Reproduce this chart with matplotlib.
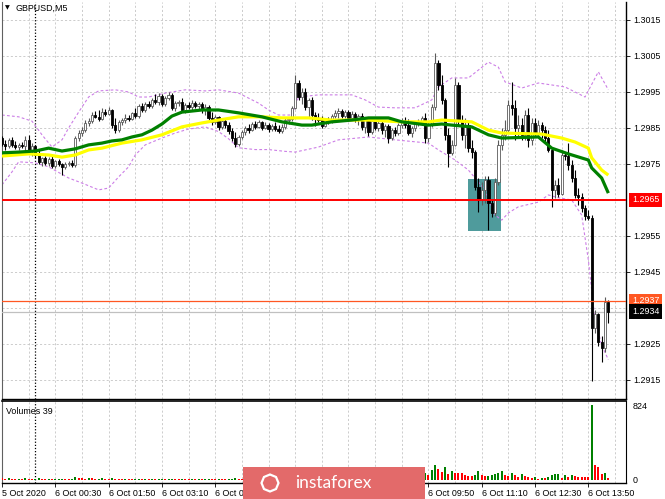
import matplotlib.pyplot as plt
from matplotlib.patches import Rectangle, RegularPolygon

plt.rcParams['font.family'] = ['Liberation Sans', 'DejaVu Sans']

# GBPUSD M5, bar 0 = 6 Oct 00:00
bar_index = list(range(-10, 173))

opens = [
    1.29822, 1.29806, 1.29800, 1.29817, 1.29803, 1.29797, 1.29803, 1.29800, 1.29817, 1.29789,
    1.29800, 1.29775, 1.29756, 1.29767, 1.29753, 1.29764, 1.29744, 1.29758, 1.29750, 1.29742,
    1.29750, 1.29753, 1.29747, 1.29822, 1.29836, 1.29844, 1.29864, 1.29869, 1.29886, 1.29881,
    1.29875, 1.29894, 1.29889, 1.29900, 1.29858, 1.29844, 1.29867, 1.29872, 1.29878, 1.29875,
    1.29892, 1.29883, 1.29911, 1.29900, 1.29917, 1.29911, 1.29928, 1.29922, 1.29939, 1.29917,
    1.29933, 1.29942, 1.29906, 1.29919, 1.29922, 1.29900, 1.29914, 1.29908, 1.29919, 1.29911,
    1.29917, 1.29900, 1.29908, 1.29878, 1.29867, 1.29881, 1.29853, 1.29869, 1.29858, 1.29842,
    1.29822, 1.29806, 1.29825, 1.29839, 1.29850, 1.29844, 1.29861, 1.29853, 1.29867, 1.29850,
    1.29858, 1.29847, 1.29856, 1.29847, 1.29842, 1.29853, 1.29872, 1.29875, 1.29906, 1.29975,
    1.29936, 1.29950, 1.29908, 1.29928, 1.29886, 1.29878, 1.29872, 1.29856, 1.29872, 1.29867,
    1.29883, 1.29892, 1.29897, 1.29883, 1.29894, 1.29878, 1.29889, 1.29875, 1.29883, 1.29853,
    1.29872, 1.29839, 1.29869, 1.29850, 1.29864, 1.29844, 1.29856, 1.29822, 1.29844, 1.29836,
    1.29858, 1.29869, 1.29858, 1.29836, 1.29850, 1.29864, 1.29869, 1.29878, 1.29822, 1.29861,
    1.29908, 1.30031, 1.29969, 1.29928, 1.29831, 1.29781, 1.29803, 1.29969, 1.29872, 1.29831,
    1.29858, 1.29794, 1.29783, 1.29686, 1.29650, 1.29678, 1.29706, 1.29642, 1.29614, 1.29700,
    1.29803, 1.29831, 1.29844, 1.29914, 1.29906, 1.29850, 1.29858, 1.29831, 1.29886, 1.29817,
    1.29864, 1.29836, 1.29858, 1.29844, 1.29822, 1.29789, 1.29678, 1.29692, 1.29667, 1.29775,
    1.29772, 1.29747, 1.29711, 1.29664, 1.29658, 1.29628, 1.29606, 1.29600, 1.29294, 1.29333,
    1.29256, 1.29239, 1.29367,
]
highs = [
    1.29828, 1.29817, 1.29822, 1.29825, 1.29814, 1.29808, 1.29811, 1.29828, 1.29831, 1.29808,
    1.29803, 1.29789, 1.29769, 1.29772, 1.29769, 1.29772, 1.29761, 1.29764, 1.29753, 1.29756,
    1.29758, 1.29761, 1.29828, 1.29844, 1.29853, 1.29872, 1.29878, 1.29894, 1.29897, 1.29900,
    1.29906, 1.29903, 1.29908, 1.29903, 1.29878, 1.29872, 1.29878, 1.29889, 1.29886, 1.29894,
    1.29906, 1.29917, 1.29919, 1.29922, 1.29925, 1.29933, 1.29944, 1.29947, 1.29944, 1.29939,
    1.29950, 1.29947, 1.29925, 1.29928, 1.29933, 1.29919, 1.29922, 1.29928, 1.29925, 1.29922,
    1.29922, 1.29917, 1.29914, 1.29894, 1.29886, 1.29883, 1.29875, 1.29878, 1.29867, 1.29850,
    1.29839, 1.29831, 1.29844, 1.29856, 1.29861, 1.29867, 1.29869, 1.29872, 1.29869, 1.29867,
    1.29864, 1.29861, 1.29867, 1.29858, 1.29861, 1.29878, 1.29881, 1.29911, 1.29997, 1.29983,
    1.29961, 1.29961, 1.29933, 1.29936, 1.29894, 1.29892, 1.29883, 1.29878, 1.29881, 1.29889,
    1.29900, 1.29906, 1.29903, 1.29900, 1.29900, 1.29897, 1.29894, 1.29889, 1.29892, 1.29881,
    1.29878, 1.29875, 1.29875, 1.29872, 1.29869, 1.29861, 1.29861, 1.29850, 1.29853, 1.29864,
    1.29878, 1.29881, 1.29875, 1.29856, 1.29869, 1.29875, 1.29883, 1.29892, 1.29869, 1.29917,
    1.30058, 1.30039, 1.29997, 1.29933, 1.29850, 1.29817, 1.29989, 1.29978, 1.29886, 1.29878,
    1.29867, 1.29817, 1.29789, 1.29711, 1.29700, 1.29717, 1.29717, 1.29650, 1.29711, 1.29817,
    1.29850, 1.29872, 1.29928, 1.29978, 1.29928, 1.29886, 1.29878, 1.29900, 1.29906, 1.29878,
    1.29878, 1.29872, 1.29867, 1.29856, 1.29844, 1.29794, 1.29706, 1.29711, 1.29789, 1.29783,
    1.29808, 1.29761, 1.29733, 1.29683, 1.29669, 1.29636, 1.29622, 1.29608, 1.29344, 1.29336,
    1.29272, 1.29381, 1.29372,
]
lows = [
    1.29800, 1.29789, 1.29794, 1.29797, 1.29792, 1.29789, 1.29794, 1.29783, 1.29781, 1.29772,
    1.29767, 1.29750, 1.29744, 1.29747, 1.29744, 1.29739, 1.29739, 1.29744, 1.29719, 1.29736,
    1.29744, 1.29742, 1.29742, 1.29814, 1.29828, 1.29839, 1.29856, 1.29864, 1.29878, 1.29869,
    1.29872, 1.29883, 1.29886, 1.29850, 1.29836, 1.29839, 1.29858, 1.29864, 1.29869, 1.29872,
    1.29878, 1.29878, 1.29894, 1.29894, 1.29906, 1.29906, 1.29917, 1.29914, 1.29911, 1.29911,
    1.29928, 1.29900, 1.29897, 1.29911, 1.29894, 1.29892, 1.29903, 1.29900, 1.29906, 1.29900,
    1.29892, 1.29886, 1.29872, 1.29858, 1.29861, 1.29844, 1.29847, 1.29850, 1.29833, 1.29814,
    1.29797, 1.29800, 1.29819, 1.29831, 1.29836, 1.29842, 1.29847, 1.29850, 1.29844, 1.29847,
    1.29839, 1.29842, 1.29842, 1.29836, 1.29836, 1.29847, 1.29861, 1.29869, 1.29903, 1.29928,
    1.29917, 1.29900, 1.29878, 1.29872, 1.29856, 1.29867, 1.29850, 1.29853, 1.29861, 1.29864,
    1.29878, 1.29878, 1.29878, 1.29878, 1.29869, 1.29872, 1.29867, 1.29858, 1.29844, 1.29836,
    1.29828, 1.29833, 1.29844, 1.29842, 1.29833, 1.29825, 1.29808, 1.29817, 1.29828, 1.29831,
    1.29850, 1.29850, 1.29831, 1.29825, 1.29842, 1.29856, 1.29858, 1.29808, 1.29811, 1.29853,
    1.29900, 1.29956, 1.29917, 1.29817, 1.29742, 1.29775, 1.29800, 1.29858, 1.29817, 1.29794,
    1.29783, 1.29767, 1.29678, 1.29617, 1.29636, 1.29642, 1.29567, 1.29603, 1.29606, 1.29692,
    1.29789, 1.29817, 1.29839, 1.29886, 1.29817, 1.29822, 1.29817, 1.29817, 1.29797, 1.29803,
    1.29825, 1.29828, 1.29822, 1.29811, 1.29783, 1.29631, 1.29656, 1.29658, 1.29664, 1.29761,
    1.29733, 1.29700, 1.29656, 1.29636, 1.29617, 1.29594, 1.29594, 1.29147, 1.29281, 1.29244,
    1.29200, 1.29228, 1.29308,
]
closes = [
    1.29806, 1.29800, 1.29817, 1.29803, 1.29797, 1.29803, 1.29800, 1.29817, 1.29789, 1.29800,
    1.29775, 1.29756, 1.29767, 1.29753, 1.29764, 1.29744, 1.29758, 1.29750, 1.29742, 1.29750,
    1.29753, 1.29747, 1.29822, 1.29836, 1.29844, 1.29864, 1.29869, 1.29886, 1.29881, 1.29875,
    1.29894, 1.29889, 1.29900, 1.29858, 1.29844, 1.29867, 1.29872, 1.29878, 1.29875, 1.29892,
    1.29883, 1.29911, 1.29900, 1.29917, 1.29911, 1.29928, 1.29922, 1.29939, 1.29917, 1.29933,
    1.29942, 1.29906, 1.29919, 1.29922, 1.29900, 1.29914, 1.29908, 1.29919, 1.29911, 1.29917,
    1.29900, 1.29908, 1.29878, 1.29867, 1.29881, 1.29853, 1.29869, 1.29858, 1.29842, 1.29822,
    1.29806, 1.29825, 1.29839, 1.29850, 1.29844, 1.29861, 1.29853, 1.29867, 1.29850, 1.29858,
    1.29847, 1.29856, 1.29847, 1.29842, 1.29853, 1.29872, 1.29875, 1.29906, 1.29975, 1.29936,
    1.29950, 1.29908, 1.29928, 1.29886, 1.29878, 1.29872, 1.29856, 1.29872, 1.29867, 1.29883,
    1.29892, 1.29897, 1.29883, 1.29894, 1.29878, 1.29889, 1.29875, 1.29883, 1.29853, 1.29872,
    1.29839, 1.29869, 1.29850, 1.29864, 1.29844, 1.29856, 1.29822, 1.29844, 1.29836, 1.29858,
    1.29869, 1.29858, 1.29836, 1.29850, 1.29864, 1.29869, 1.29878, 1.29822, 1.29861, 1.29908,
    1.30031, 1.29969, 1.29928, 1.29831, 1.29781, 1.29803, 1.29969, 1.29872, 1.29831, 1.29858,
    1.29794, 1.29783, 1.29686, 1.29650, 1.29678, 1.29706, 1.29642, 1.29614, 1.29700, 1.29803,
    1.29831, 1.29844, 1.29914, 1.29906, 1.29850, 1.29858, 1.29831, 1.29886, 1.29817, 1.29864,
    1.29836, 1.29858, 1.29844, 1.29822, 1.29789, 1.29678, 1.29692, 1.29667, 1.29775, 1.29772,
    1.29747, 1.29711, 1.29664, 1.29658, 1.29628, 1.29606, 1.29600, 1.29294, 1.29333, 1.29256,
    1.29239, 1.29367, 1.29339,
]
volumes = [
    18, 12, 20, 15, 10, 14, 12, 22, 16, 12,
    15, 20, 12, 10, 14, 9, 11, 13, 16, 12,
    10, 12, 30, 22, 18, 14, 20, 17, 12, 15,
    18, 14, 12, 20, 16, 13, 11, 14, 12, 10,
    13, 16, 12, 15, 11, 14, 10, 12, 15, 11,
    12, 16, 10, 9, 14, 11, 10, 12, 9, 11,
    10, 12, 15, 11, 10, 14, 12, 10, 13, 16,
    18, 12, 10, 11, 9, 12, 10, 8, 11, 9,
    10, 9, 11, 10, 12, 14, 11, 13, 35, 22,
    18, 20, 15, 17, 12, 10, 13, 11, 12, 10,
    14, 12, 11, 13, 12, 10, 11, 14, 16, 15,
    18, 20, 16, 22, 18, 25, 30, 22, 28, 24,
    30, 26, 35, 28, 40, 32, 45, 80, 60, 110,
    160, 120, 90, 145, 68, 100, 78, 76, 72, 56,
    45, 42, 56, 100, 56, 45, 47, 50, 68, 75,
    100, 56, 45, 78, 56, 30, 68, 40, 35, 22,
    35, 12, 22, 20, 35, 56, 68, 70, 22, 56,
    30, 50, 40, 38, 35, 32, 28, 824, 170, 145,
    68, 80, 25,
]

# moving averages
green_ma_x = [-10, -5, 0, 4, 8, 12, 16, 20, 23, 26, 29, 32, 35, 38, 41, 44, 50, 55, 61, 68,
              74, 80, 83, 89, 95, 100, 106, 110, 118, 122, 125, 131, 136, 140, 151, 155, 160,
              166, 167, 170, 172]
green_ma = [1.29781, 1.29783, 1.29786, 1.29794, 1.29786, 1.29792, 1.29803, 1.29808, 1.29814,
            1.29817, 1.29825, 1.29831, 1.29844, 1.29861, 1.29883, 1.29894, 1.29900, 1.29900,
            1.29892, 1.29881, 1.29867, 1.29858, 1.29858, 1.29867, 1.29872, 1.29878, 1.29878,
            1.29867, 1.29858, 1.29861, 1.29858, 1.29853, 1.29831, 1.29822, 1.29825, 1.29794,
            1.29778, 1.29761, 1.29739, 1.29711, 1.29669]
yellow_ma_x = [-10, -2, 4, 8, 12, 16, 20, 26, 32, 38, 44, 50, 55, 61, 68, 74, 82, 89, 100, 110,
               118, 122, 131, 136, 140, 152, 158, 162, 166, 167, 170, 172]
yellow_ma = [1.29772, 1.29778, 1.29775, 1.29769, 1.29775, 1.29789, 1.29794, 1.29808, 1.29817,
             1.29831, 1.29853, 1.29864, 1.29872, 1.29881, 1.29881, 1.29878, 1.29878, 1.29872,
             1.29872, 1.29867, 1.29867, 1.29872, 1.29867, 1.29844, 1.29836, 1.29833, 1.29822,
             1.29811, 1.29794, 1.29767, 1.29733, 1.29719]

# band lines (dashed violet)
upper_x = [-10, -5, -1, 2, 5, 8, 10, 13, 16, 19, 24, 28, 31, 34, 39, 45, 51, 55, 61, 67, 70,
           73, 77, 79, 85, 95, 99, 103, 108, 114, 119, 121, 125, 130, 136, 139, 141, 146, 151,
           159, 165, 169, 172]
upper_band = [1.29886, 1.29881, 1.29869, 1.29831, 1.29797, 1.29817, 1.29850, 1.29894, 1.29936,
              1.29953, 1.29956, 1.29950, 1.29936, 1.29936, 1.29947, 1.29956, 1.29953, 1.29956,
              1.29947, 1.29919, 1.29900, 1.29886, 1.29886, 1.29936, 1.29942, 1.29942, 1.29928,
              1.29908, 1.29906, 1.29906, 1.29928, 1.29964, 1.29989, 1.29989, 1.30033, 1.30019,
              1.29978, 1.29961, 1.29975, 1.29964, 1.29936, 1.30006, 1.29956]
lower_x = [-10, -7, -5, 0, 4, 10, 14, 19, 22, 25, 28, 30, 33, 38, 42, 46, 51, 55, 58, 61, 66,
           70, 75, 78, 85, 91, 100, 108, 118, 121, 126, 130, 135, 138, 140, 142, 145, 151, 154,
           157, 161, 164, 166, 168, 170, 172]
lower_band = [1.29692, 1.29728, 1.29756, 1.29753, 1.29742, 1.29711, 1.29697, 1.29678, 1.29683,
              1.29714, 1.29742, 1.29775, 1.29803, 1.29822, 1.29836, 1.29847, 1.29853, 1.29840,
              1.29820, 1.29795, 1.29790, 1.29790, 1.29785, 1.29783, 1.29797, 1.29817, 1.29825,
              1.29817, 1.29808, 1.29789, 1.29761, 1.29733, 1.29678, 1.29608, 1.29594, 1.29614,
              1.29631, 1.29644, 1.29664, 1.29656, 1.29650, 1.29608, 1.29483, 1.29317, 1.29247,
              1.29206]

price_grid = [1.2915, 1.2925, 1.2935, 1.2945, 1.2955, 1.2965, 1.2975, 1.2985, 1.2995, 1.3005, 1.3015]
price_labels = [1.2915, 1.2925, 1.2945, 1.2955, 1.2975, 1.2985, 1.2995, 1.3005, 1.3015]
support_level = 1.2965
orange_level = 1.2937
bid_level = 1.2934
zone_bars = (129.9, 139.8)
zone_prices = (1.29564, 1.29708)

# labels under the watermark are hidden in the original, so they stay empty here
time_ticks = [-10, 6, 22, 38, 54, 70, 86, 102, 118, 134, 150, 166]
time_labels = ['5 Oct 2020', '6 Oct 00:30', '6 Oct 01:50', '6 Oct 03:10', '6 Oct 04:30',
               '', '', '', '6 Oct 09:50', '6 Oct 11:10', '6 Oct 12:30', '6 Oct 13:50']
grid_bars = list(range(-10, 178, 8))

FS = 6.4
W, H = 665, 499
fig = plt.figure(figsize=(W / 100, H / 100), dpi=100)
ax = fig.add_axes([2 / W, 1 - 399 / H, 624 / W, 397 / H])
axv = fig.add_axes([2 / W, 1 - 483 / H, 624 / W, 82 / H], sharex=ax)

ax.set_xlim(-9.9, 177.3)
ax.set_ylim(1.29097, 1.30200)
axv.set_ylim(-33, 868)

# grids
grid_ls = (0, (2.5, 2.5))
for p in price_grid:
    ax.axhline(p, color='#c4c4c4', lw=0.6, ls=grid_ls, zorder=0)
for b in grid_bars:
    ax.axvline(b, color='#c4c4c4', lw=0.6, ls=grid_ls, zorder=0)
    axv.axvline(b, color='#c4c4c4', lw=0.6, ls=grid_ls, zorder=0)
ax.axvline(0, color='black', lw=0.9, ls=(0, (1, 1.5)), zorder=1)
axv.axvline(0, color='black', lw=0.9, ls=(0, (1, 1.5)), zorder=1)

# zone box
ax.add_patch(Rectangle((zone_bars[0], zone_prices[0]), zone_bars[1] - zone_bars[0],
                       zone_prices[1] - zone_prices[0], facecolor='#4f9b9c', edgecolor='none',
                       zorder=1.5))

# bands
ax.plot(upper_x, upper_band, color='#cc7ee6', lw=0.8, ls=(0, (2.5, 2)), zorder=2)
ax.plot(lower_x, lower_band, color='#cc7ee6', lw=0.8, ls=(0, (2.5, 2)), zorder=2)

# candles
wick_col = []
for o, c in zip(opens, closes):
    wick_col.append('#5a5a5a' if c >= o else 'black')
ax.vlines(bar_index, lows, highs, colors=wick_col, lw=0.8, zorder=4)
for x, o, c, col in zip(bar_index, opens, closes, wick_col):
    up = c >= o
    ax.add_patch(Rectangle((x - 0.33, min(o, c)), 0.66, max(abs(c - o), 0.00002),
                           facecolor='white' if up else 'black', edgecolor=col, lw=0.6,
                           zorder=5))

# moving averages
ax.plot(yellow_ma_x, yellow_ma, color='#ffff00', lw=2.3, zorder=6, solid_capstyle='butt')
ax.plot(green_ma_x, green_ma, color='#008000', lw=2.3, zorder=7, solid_capstyle='butt')

# horizontal levels
ax.axhline(support_level, color='#ff0000', lw=1.4, zorder=8)
ax.axhline(orange_level, color='#ff5722', lw=0.9, zorder=8)
ax.axhline(bid_level, color='#c0c0c0', lw=0.9, zorder=3)

# price scale
ax.yaxis.tick_right()
ax.set_yticks(price_labels)
ax.set_yticklabels([f'{p:.4f}' for p in price_labels])
ax.tick_params(axis='y', length=3, width=0.6, pad=2, labelsize=FS, colors='black')
ax.tick_params(axis='x', bottom=False, labelbottom=False)
ytr = ax.get_yaxis_transform()
for lvl, bg in [(support_level, '#ff0000'), (orange_level, '#ff5722'), (bid_level, 'black')]:
    ax.text(1.0096, lvl, f'{lvl:.4f}', transform=ytr, ha='left', va='center', fontsize=FS,
            color='white', bbox=dict(boxstyle='square,pad=0.3', fc=bg, ec='none'), clip_on=False)

ax.spines['top'].set_visible(False)
ax.spines['left'].set_color('#606060')
ax.spines['right'].set_linewidth(1.0)
ax.spines['bottom'].set_linewidth(1.0)

# volumes, green when above the previous bar
vol_col = ['#ff0000']
for i in range(1, len(volumes)):
    vol_col.append('#008000' if volumes[i] > volumes[i - 1] else '#ff0000')
axv.bar(bar_index, volumes, width=0.62, color=vol_col, zorder=3)
axv.yaxis.tick_right()
axv.set_yticks([0, 824])
axv.set_yticklabels(['0', '824'])
axv.tick_params(axis='y', length=0, pad=5, labelsize=FS)
axv.set_xticks(time_ticks)
axv.set_xticklabels(time_labels)
axv.tick_params(axis='x', length=3, width=0.6, pad=1.5, labelsize=FS)
for lab in axv.get_xticklabels():
    lab.set_ha('left')
axv.spines['top'].set_linewidth(1.2)
axv.spines['left'].set_color('#606060')
axv.spines['bottom'].set_linewidth(1.0)
axv.text(0.006, 0.93, 'Volumes 39', transform=axv.transAxes, fontsize=FS, va='top', ha='left')

# title
fig.text(5 / W, 1 - 8 / H, '\u25bc', fontsize=4.5, va='center', ha='left', family='DejaVu Sans')
fig.text(15 / W, 1 - 8 / H, 'GBPUSD,M5', fontsize=FS, va='center', ha='left')

# watermark
fig.patches.append(Rectangle((243 / W, 0), 182 / W, 32 / H, transform=fig.transFigure,
                             facecolor='#e36a6a', edgecolor='none', zorder=10))
fig.patches.append(RegularPolygon((2.70, 0.16), numVertices=8, radius=0.085,
                                  transform=fig.dpi_scale_trans, facecolor='none',
                                  edgecolor='white', lw=1.6, zorder=11))
fig.text(333 / W, 16 / H, 'instaforex', color='white', fontsize=12.5, ha='center', va='center',
         family=['Lato', 'DejaVu Sans'], zorder=12)

fig.savefig('out.png', dpi=100)
